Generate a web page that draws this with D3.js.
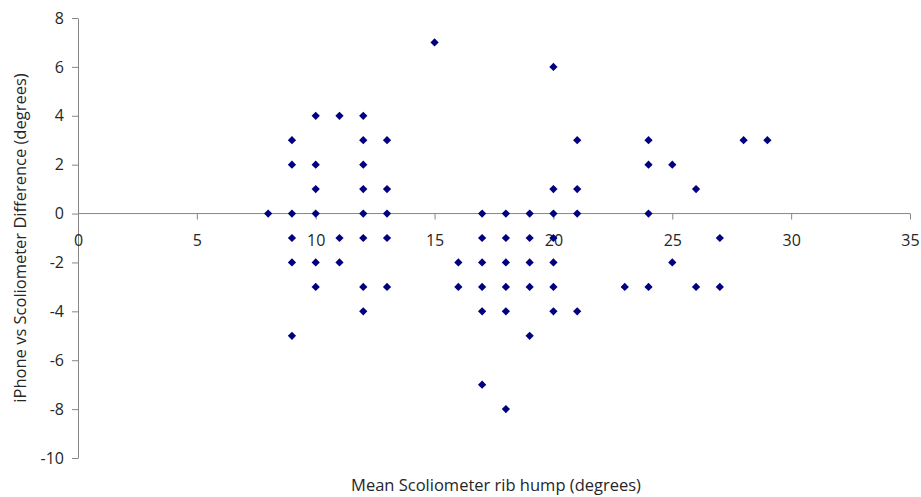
<!DOCTYPE html>
<html>
<head>
<meta charset="utf-8">
<style>
  body { margin: 0; background: #fff; }
  text { font-family: "Open Sans", "Liberation Sans", sans-serif; fill: #262626; }
  .axis path, .axis line { stroke: #868686; }
</style>
</head>
<body>
<div id="chart"></div>
<script src="https://d3js.org/d3.v7.min.js"></script>
<script>
// rib hump (x) and difference values (y), grouped by x
var humpX = [8, 9, 10, 11, 12, 13, 15, 16, 17, 18, 19, 20, 21, 23, 24, 25, 26, 27, 28, 29];
var diffY = [
  [0],
  [3, 2, 0, -1, -2, -5],
  [4, 2, 1, 0, -2, -3],
  [4, -1, -2],
  [4, 3, 2, 1, 0, -1, -3, -4],
  [3, 1, 0, -1, -3],
  [7],
  [-2, -3],
  [0, -1, -2, -3, -4, -7],
  [0, -1, -2, -3, -4, -8],
  [0, -1, -2, -3, -5],
  [6, 1, 0, -1, -2, -3, -4],
  [3, 1, 0, -4],
  [-3],
  [3, 2, 0, -3],
  [2, -2],
  [1, -3],
  [-1, -3],
  [3],
  [3]
];
var xTicks = [0, 5, 10, 15, 20, 25, 30, 35];
var yTicks = [8, 6, 4, 2, 0, -2, -4, -6, -8, -10];

var points = [];
humpX.forEach(function (x, i) {
  diffY[i].forEach(function (y) { points.push({x: x, y: y}); });
});

var w = 921, h = 497;
var svg = d3.select('#chart').append('svg')
  .attr('width', w)
  .attr('height', h);

var x = d3.scaleLinear().domain([0, 35]).range([78, 910]);
var y = d3.scaleLinear().domain([-10, 8]).range([458, 18]);

// plain hyphen for negatives, like the original
var fmt = function (d) { return String(d); };

// y axis
var yAxis = svg.append('g')
  .attr('class', 'axis')
  .attr('transform', 'translate(' + x(0) + ',0)')
  .call(d3.axisLeft(y).tickValues(yTicks).tickFormat(fmt).tickSize(6).tickPadding(8).tickSizeOuter(0));
yAxis.selectAll('text').style('font-size', '16px').style('fill', '#262626');

// x axis sits on y = 0
var xAxis = svg.append('g')
  .attr('class', 'axis')
  .attr('transform', 'translate(0,' + y(0) + ')')
  .call(d3.axisBottom(x).tickValues(xTicks).tickFormat(fmt).tickSize(6).tickPadding(15).tickSizeOuter(0));
xAxis.selectAll('text').style('font-size', '16px').style('fill', '#262626');
xAxis.select('.domain').attr('d', 'M' + x(0) + ',0H' + x(35));

// points
svg.selectAll('.pt')
  .data(points)
  .enter()
  .append('path')
  .attr('class', 'pt')
  .attr('d', d3.symbol().type(d3.symbolSquare).size(34))
  .attr('transform', function (d) {
    return 'translate(' + x(d.x) + ',' + y(d.y) + ') rotate(45)';
  })
  .attr('fill', '#000080');

// titles
svg.append('text')
  .attr('x', 496)
  .attr('y', 491)
  .attr('text-anchor', 'middle')
  .style('font-size', '16.5px')
  .text('Mean Scoliometer rib hump (degrees)');

svg.append('text')
  .attr('transform', 'translate(26,238) rotate(-90)')
  .attr('text-anchor', 'middle')
  .style('font-size', '16.5px')
  .text('iPhone vs Scoliometer Difference (degrees)');
</script>
</body>
</html>
